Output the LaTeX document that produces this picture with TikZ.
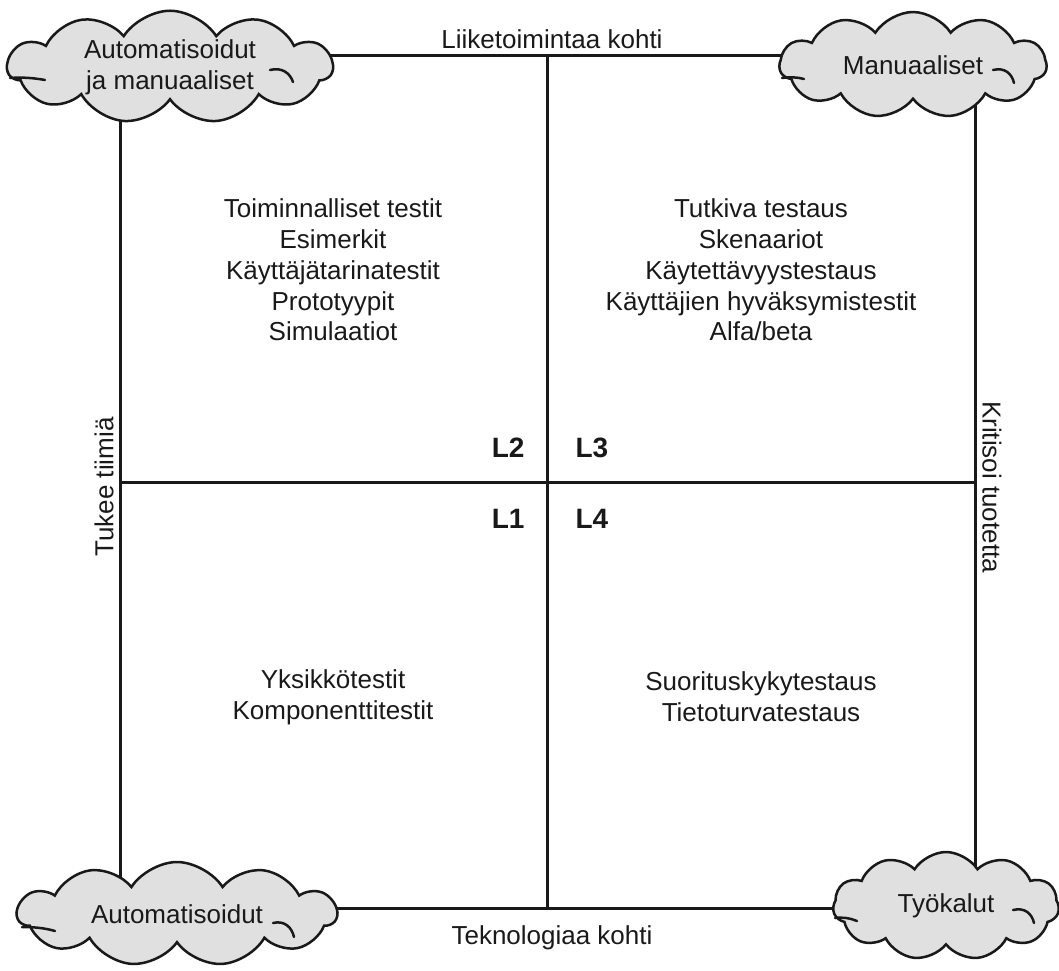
\documentclass[tikz,border=0pt]{standalone}
\usepackage{fontspec}
\setmainfont{Liberation Sans}
\usetikzlibrary{shapes.symbols}
\definecolor{cloudgray}{RGB}{224,224,224}
\definecolor{ink}{RGB}{25,25,25}
\begin{document}
\begin{tikzpicture}[x=1pt,y=-1pt,
  frame/.style={line width=3pt, draw=ink},
  cloudbox/.style={cloud, cloud puffs=11, cloud puff arc=115, cloud ignores aspect,
    draw=ink, line width=2.5pt, fill=cloudgray, inner sep=0pt, text=ink,
    align=center, font=\fontsize{26}{31}\selectfont},
  curl/.style={draw=ink, line width=2.5pt, line cap=round},
  body/.style={align=center, text=ink, font=\fontsize{26}{30.7}\selectfont},
  lab/.style={text=ink, font=\fontsize{26}{31}\selectfont},
  quad/.style={text=ink, font=\bfseries\fontsize{28}{32}\selectfont}
]
\useasboundingbox (0,0) rectangle (1059,970);
% frame corners and midpoints
\coordinate (A) at (120,55);
\coordinate (Bc) at (975,55);
\coordinate (Cc) at (975,908);
\coordinate (Dc) at (120,908);
\coordinate (T) at (547,55);
\coordinate (Bm) at (547,908);
\coordinate (Lm) at (120,482);
\coordinate (Rm) at (975,482);
\draw[frame] (A) -- (Bc) -- (Cc) -- (Dc) -- cycle;
\draw[frame] (T) -- (Bm);
\draw[frame] (Lm) -- (Rm);
% clouds
\node[cloudbox, minimum width=325pt, minimum height=110pt] (tl) at (170,67) {Automatisoidut\\ja manuaaliset};
\node[cloudbox, minimum width=267pt, minimum height=106pt] (tr) at (913,65) {Manuaaliset};
\node[cloudbox, minimum width=319pt, minimum height=104pt] (bl) at (177,914) {Automatisoidut};
\node[cloudbox, minimum width=226pt, minimum height=108pt] (br) at (946,906) {Työkalut};
% inner curls of the clouds
\begin{scope}[shift={(tl.center)}]
  \draw[curl] (-160,11) .. controls (-148,10) and (-136,11) .. (-125,13);
  \draw[curl] (100,3) .. controls (112,0) and (120,6) .. (123,15);
\end{scope}
\begin{scope}[shift={(tr.center)}]
  \draw[curl] (-131,13) .. controls (-123,12) and (-116,12) .. (-109,14);
  \draw[curl] (80,5) .. controls (92,2) and (99,9) .. (101,18);
\end{scope}
\begin{scope}[shift={(bl.center)}]
  \draw[curl] (-155,13) .. controls (-143,13) and (-132,14) .. (-122,17);
  \draw[curl] (96,9) .. controls (108,6) and (115,14) .. (117,23);
\end{scope}
\begin{scope}[shift={(br.center)}]
  \draw[curl] (-111,12) .. controls (-103,11) and (-96,12) .. (-89,15);
  \draw[curl] (67,4) .. controls (79,1) and (86,8) .. (88,17);
\end{scope}
% axis labels
\node[lab] (top) at (552,39) {Liiketoimintaa kohti};
\node[lab] (bottom) at (552,938) {Teknologiaa kohti};
\node[lab, rotate=90] (left) at (104,487) {Tukee tiimiä};
\node[lab, rotate=-90] (right) at (992,487) {Kritisoi tuotetta};
% quadrant labels
\node[quad, anchor=east] (q2) at (528,448) {L2};
\node[quad, anchor=west] (q3) at (572,448) {L3};
\node[quad, anchor=east] (q1) at (528,519) {L1};
\node[quad, anchor=west] (q4) at (572,519) {L4};
% quadrant contents
\node[body] (c2) at (333,270) {Toiminnalliset testit\\Esimerkit\\Käyttäjätarinatestit\\Prototyypit\\Simulaatiot};
\node[body] (c3) at (761,270) {Tutkiva testaus\\Skenaariot\\Käytettävyystestaus\\Käyttäjien hyväksymistestit\\Alfa/beta};
\node[body] (c1) at (333,697) {Yksikkötestit\\Komponenttitestit};
\node[body] (c4) at (761,697) {Suorituskykytestaus\\Tietoturvatestaus};
\end{tikzpicture}
\end{document}
